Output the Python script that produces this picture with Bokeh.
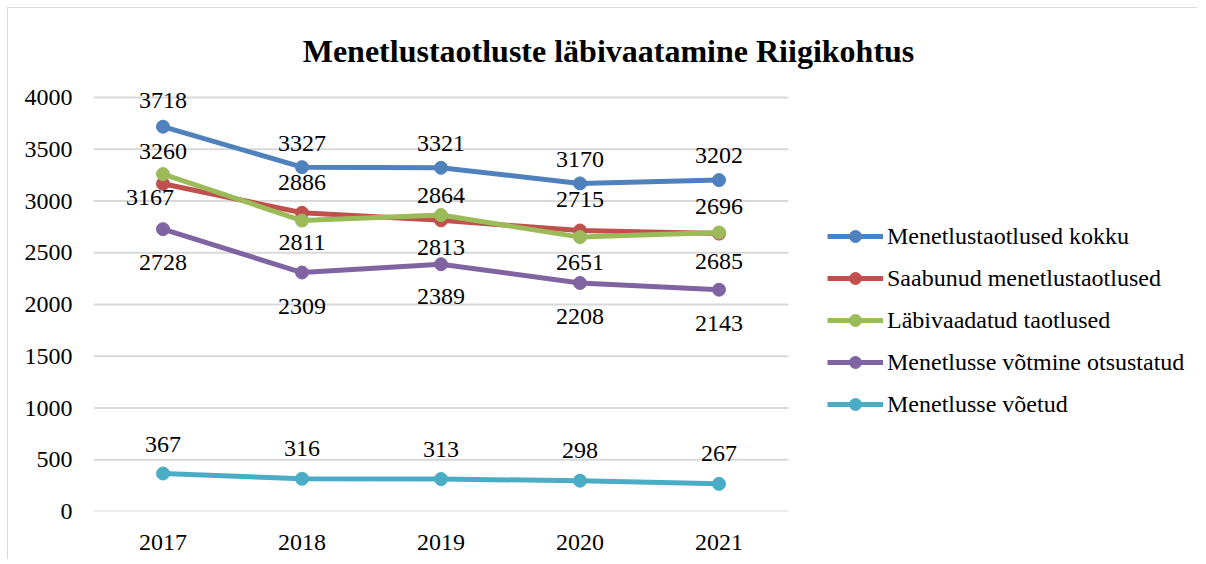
from bokeh.plotting import figure
from bokeh.models import (Range1d, FixedTicker, Legend, LegendItem, Label,
                          LabelSet, ColumnDataSource)
from bokeh.embed import file_html
from bokeh.resources import INLINE

# ---------------- data ----------------
years = ["2017", "2018", "2019", "2020", "2021"]
kokku = [3718, 3327, 3321, 3170, 3202]
saabunud = [3167, 2886, 2813, 2715, 2685]
labivaadatud = [3260, 2811, 2864, 2651, 2696]
otsustatud = [2728, 2309, 2389, 2208, 2143]
voetud = [367, 316, 313, 298, 267]

series_names = ["Menetlustaotlused kokku", "Saabunud menetlustaotlused",
                "Läbivaadatud taotlused", "Menetlusse võtmine otsustatud",
                "Menetlusse võetud"]
series_values = [kokku, saabunud, labivaadatud, otsustatud, voetud]
y_ticks = [0, 500, 1000, 1500, 2000, 2500, 3000, 3500, 4000]
title_text = "Menetlustaotluste läbivaatamine Riigikohtus"

# ---------------- styles / layout ----------------
colors = ["#4F81BD", "#C0504D", "#9BBB59", "#8064A2", "#4BACC6"]
# data-label offsets in px (dx, dy; +dy = up)
label_offsets = [
    [(0, 26), (0, 24), (0, 24), (0, 24), (0, 25)],
    [(-13, -14), (0, 30), (0, -27), (0, 31), (0, -28)],
    [(0, 23), (0, -22), (0, 20), (0, -25), (0, 26)],
    [(0, -33), (0, -34), (0, -32), (0, -34), (0, -34)],
    [(0, 29), (0, 30), (0, 30), (0, 30), (0, 30)],
]
FONT = "Liberation Serif"
W, H = 1190, 552
FL, FB = 85, 503                 # frame left / bottom in canvas px
PX_X = 139.0                     # px per category
PX_PER_UNIT = (FB - 89) / 4000.0  # 4000 gridline at canvas y=89
y_end = FB / PX_PER_UNIT
x_end = -0.5 + (W - FL) / PX_X
n = len(years)

p = figure(width=W, height=H, output_backend="svg", toolbar_location=None,
           title=None,
           x_range=Range1d(-0.5, x_end), y_range=Range1d(0, y_end),
           min_border_left=FL, min_border_right=0,
           min_border_top=0, min_border_bottom=H - FB)
p.styles = {"margin": "7px 0 0 7px",
            "border-top": "1px solid #d9d9d9", "border-left": "1px solid #d9d9d9"}
p.outline_line_color = None
p.background_fill_color = "white"
p.border_fill_color = "white"
p.xgrid.visible = False
p.ygrid.visible = False

# horizontal gridlines limited to the category span
p.segment(x0=[-0.5] * len(y_ticks), x1=[n - 0.5] * len(y_ticks),
          y0=y_ticks, y1=y_ticks, line_color="#D9D9D9", line_width=2)

xs = list(range(n))
legend_items = []
for name, vals, col, offs in zip(series_names, series_values, colors, label_offsets):
    ln = p.line(xs, vals, line_color=col, line_width=5)
    sc = p.scatter(xs, vals, size=13, fill_color=col, line_color=col)
    legend_items.append(LegendItem(label=name, renderers=[ln, sc]))
    src = ColumnDataSource(dict(x=xs, y=vals, t=[str(v) for v in vals],
                                dx=[o[0] for o in offs], dy=[o[1] for o in offs]))
    p.add_layout(LabelSet(x="x", y="y", text="t", source=src,
                          x_offset="dx", y_offset="dy",
                          text_align="center", text_baseline="middle",
                          text_font=FONT, text_font_size="24px",
                          text_color="black"))

# axes
p.xaxis.ticker = FixedTicker(ticks=xs)
p.xaxis.major_label_overrides = {i: y for i, y in enumerate(years)}
p.yaxis.ticker = FixedTicker(ticks=y_ticks)
for ax in (p.xaxis, p.yaxis):
    ax.axis_line_color = None
    ax.major_tick_line_color = None
    ax.minor_tick_line_color = None
    ax.major_tick_out = 0
    ax.major_tick_in = 0
    ax.major_label_text_font = FONT
    ax.major_label_text_font_size = "24px"
    ax.major_label_text_color = "black"
p.yaxis.major_label_standoff = 21
p.xaxis.major_label_standoff = 23

# title (centered at canvas x=600, y=42)
p.add_layout(Label(x=-0.5 + (600 - FL) / PX_X, y=(FB - 42) / PX_PER_UNIT,
                   text=title_text, text_align="center", text_baseline="middle",
                   text_font=FONT, text_font_size="32px", text_font_style="bold",
                   text_color="black"))

# legend
legend = Legend(items=legend_items, location=(734, 92),
                glyph_width=56, glyph_height=30, label_height=30, spacing=12,
                padding=0, margin=0, label_standoff=4,
                label_text_font=FONT, label_text_font_size="24px",
                label_text_color="black",
                border_line_color=None, background_fill_alpha=0)
p.add_layout(legend)

open("out.html", "w").write(file_html(p, INLINE))
